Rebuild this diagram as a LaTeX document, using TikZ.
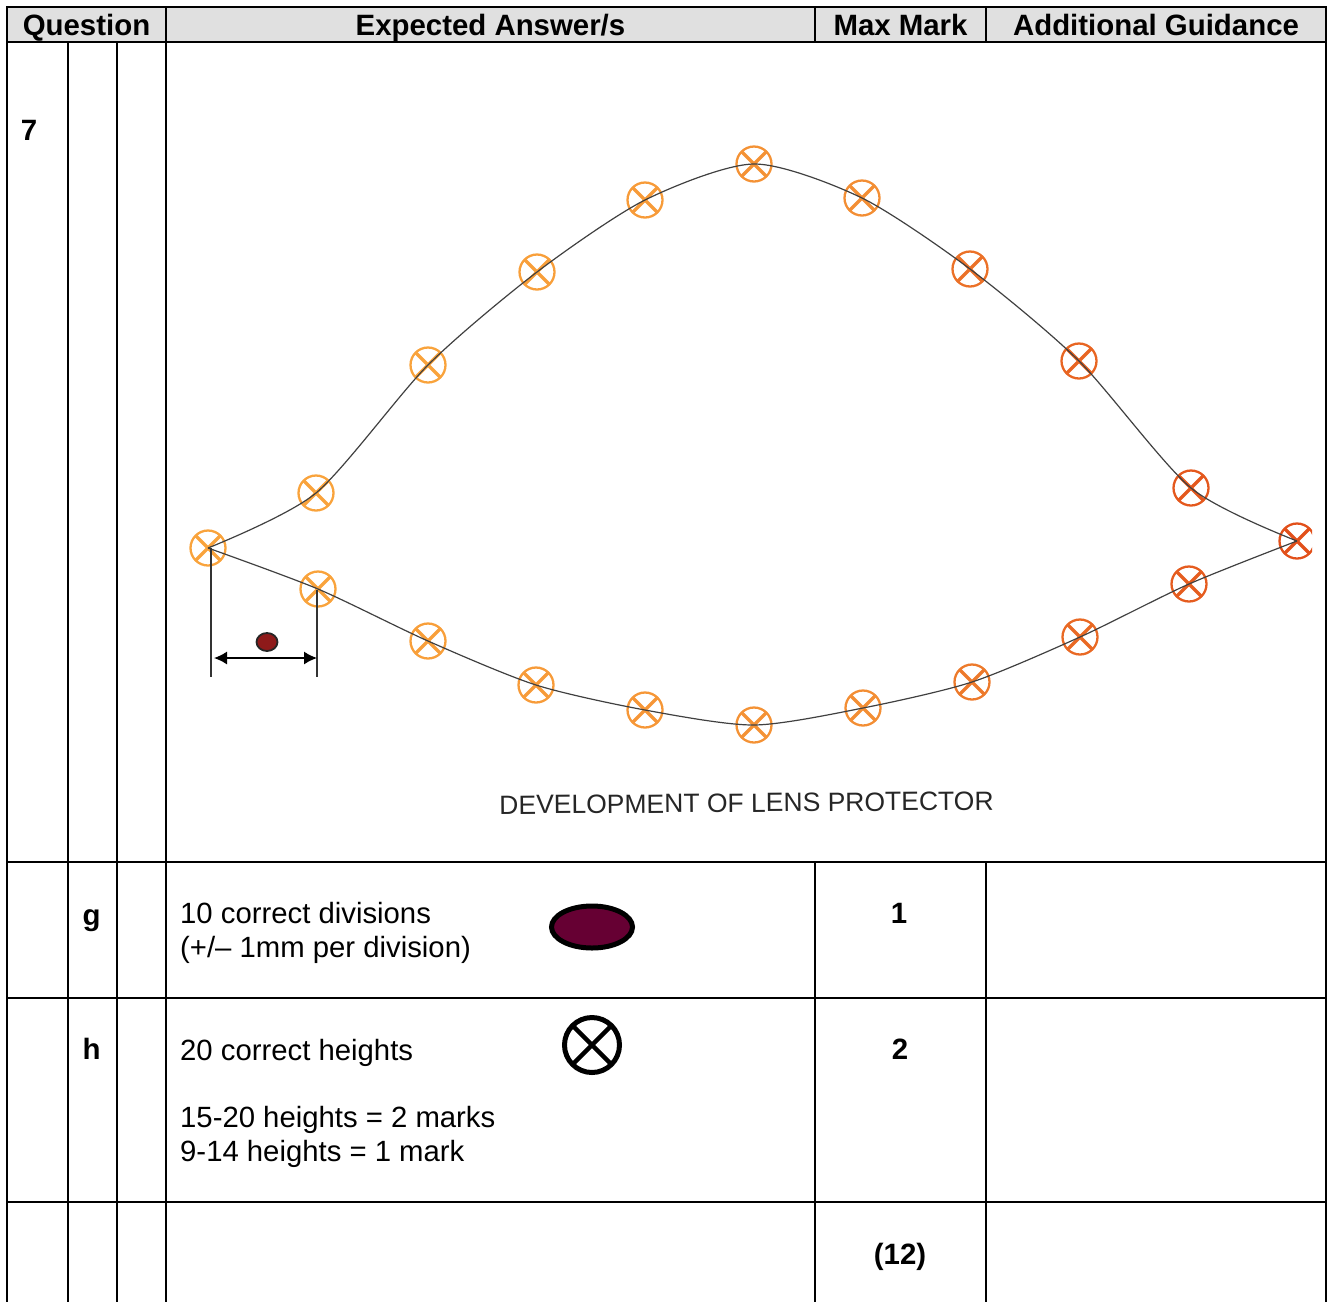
\documentclass[tikz,border=0pt]{standalone}
\usepackage{fontspec}
\setmainfont{Liberation Sans}
\usetikzlibrary{arrows.meta,shapes.geometric}
\definecolor{headgrey}{HTML}{E0E0E0}
\definecolor{markorange}{HTML}{F9A33C}
\definecolor{markred}{HTML}{E2501A}
\definecolor{blobred}{HTML}{8E1A1A}
\definecolor{legendplum}{HTML}{660033}
\tikzset{
  gridline/.style={line width=2.8pt,black},
  txt/.style={font=\fontsize{29.3}{34}\selectfont,inner sep=0pt,align=left,anchor=west},
  bold/.style={font=\fontsize{29.4}{34}\selectfont\bfseries,inner sep=0pt,anchor=base},
  xmark/.style={circle,draw=#1,line width=2.3pt,minimum size=35pt,inner sep=0pt,
    path picture={\draw[#1,line width=3.4pt]
      (path picture bounding box.north west) -- (path picture bounding box.south east)
      (path picture bounding box.north east) -- (path picture bounding box.south west);}},
  curveline/.style={draw=black!75,line width=1.2pt,smooth,tension=0.45},
}
\begin{document}
\begin{tikzpicture}[x=1pt,y=-1pt]
\useasboundingbox (0,0) rectangle (1330,1302);
\fill[headgrey] (7,7) rectangle (1326,42);
% table lines
\draw[gridline] (1326,1302) -- (1326,7) -- (7,7) -- (7,1302);
\foreach \y in {42,862,998,1202} \draw[gridline] (7,\y) -- (1326,\y);
\foreach \x in {68,117} \draw[gridline] (\x,42) -- (\x,1302);
\draw[gridline] (166,7) -- (166,1302);
\foreach \x in {815,986} {
  \draw[gridline] (\x,7) -- (\x,42);
  \draw[gridline] (\x,862) -- (\x,1302);
}
% head row
\node[bold] (headQ) at (86.5,35) {Question};
\node[bold] (headE) at (490.5,35) {Expected Answer/s};
\node[bold] (headM) at (900.5,35) {Max Mark};
\node[bold] (headG) at (1156,35) {Additional Guidance};
\node[bold] (num7) at (29,140) {7};
% marks
\begin{scope}
\clip (0,0) rectangle (1312,1302);
\foreach \n/\x/\y/\s in {start/208/548/0,u1/316/493/0,u2/428/365/0,u3/537/272/5,u4/645/200/10,
    u5/754/164/20,u6/862/198/25,u7/970/269/60,u8/1079/361/75,u9/1191/488/90,end/1297/541/100,
    l1/318/589/0,l2/428/641/5,l3/536/685/10,l4/645/710/15,l5/754/725/20,
    l6/863/708/25,l7/972/682/50,l8/1080/637/70,l9/1189/584/85}
  \node[xmark=markred!\s!markorange] (\n) at (\x,\y) {};
\end{scope}
% outline of the development
\draw[curveline] plot coordinates {(start.center) (u1.center) (u2.center) (u3.center) (u4.center)
  (u5.center) (u6.center) (u7.center) (u8.center) (u9.center) (end.center)};
\draw[curveline] plot coordinates {(start.center) (l1.center) (l2.center) (l3.center) (l4.center)
  (l5.center) (l6.center) (l7.center) (l8.center) (l9.center) (end.center)};
% dimension
\coordinate (dimLtop) at (211,548);
\coordinate (dimLbot) at (211,677);
\coordinate (dimRtop) at (317,590);
\coordinate (dimRbot) at (317,677);
\coordinate (arrL) at (214,658);
\coordinate (arrR) at (317,658);
\draw[black!80,line width=1.8pt] (dimLtop) -- (dimLbot);
\draw[black!80,line width=1.8pt] (dimRtop) -- (dimRbot);
\draw[{Latex[length=13pt,width=13pt]}-{Latex[length=13pt,width=13pt]},line width=1.4pt] (arrL) -- (arrR);
\node[ellipse,draw=black!85,fill=blobred,line width=1.8pt,minimum width=21pt,minimum height=18pt,inner sep=0pt] (blob) at (267,642) {};
\node[font=\fontsize{26.5}{30}\selectfont,inner sep=0pt,rotate=0.5,text=black!85] (caption) at (746.5,803) {DEVELOPMENT OF LENS PROTECTOR};
% row g
\node[bold] (partg) at (91.5,925) {g};
\node[txt] (textg) at (180,933) {10 correct divisions\\(+/-- 1mm per division)};
\node[ellipse,draw=black,fill=legendplum,line width=5pt,minimum width=81pt,minimum height=42pt,inner sep=0pt] (legendblob) at (592,927) {};
\node[bold] (markg) at (899,923) {1};
% row h
\node[bold] (parth) at (91.5,1059) {h};
\node[txt] (texth) at (180,1053) {20 correct heights};
\node[txt] (textmarks) at (180,1137) {15-20 heights = 2 marks\\9-14 heights = 1 mark};
\node[circle,draw=black,line width=5pt,minimum size=55pt,inner sep=0pt,
  path picture={\draw[line width=4.5pt]
    (path picture bounding box.north west) -- (path picture bounding box.south east)
    (path picture bounding box.north east) -- (path picture bounding box.south west);}] (legendcross) at (592,1045) {};
\node[bold] (markh) at (900,1059) {2};
\node[bold] (total) at (900,1264) {(12)};
\end{tikzpicture}
\end{document}
